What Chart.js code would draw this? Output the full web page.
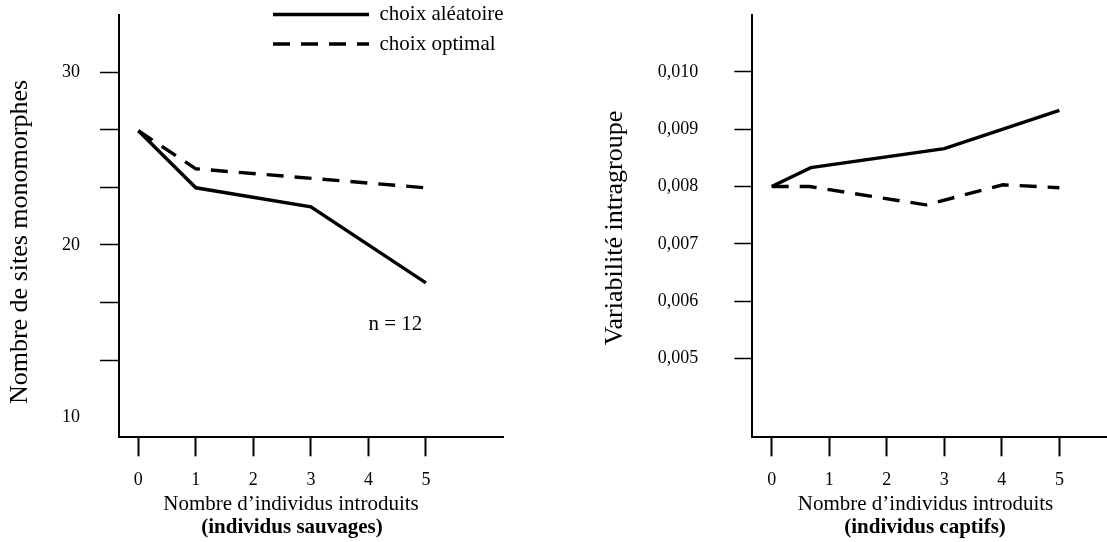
<!DOCTYPE html>
<html>
<head>
<meta charset="utf-8">
<script src="https://cdn.jsdelivr.net/npm/chart.js@4.4.1/dist/chart.umd.min.js"></script>
<style>
  html, body { margin: 0; padding: 0; background: #fff; }
  #wrap { position: relative; width: 1107px; height: 542px; }
  #leftChart { position: absolute; left: 0; top: 0; }
  #rightChart { position: absolute; left: 560px; top: 0; }
</style>
</head>
<body>
<div id="wrap">
  <canvas id="leftChart" width="560" height="542"></canvas>
  <canvas id="rightChart" width="547" height="542"></canvas>
</div>
<script>
const FONT = "'Liberation Serif', 'Times New Roman', serif";
const SERIES_NAMES = ['choix aléatoire', 'choix optimal'];
const xTicks = [0, 1, 2, 3, 4, 5];

// individus sauvages (left panel)
const wildRandomX = [0, 1, 3, 5];
const wildRandomY = [26.6, 23.3, 22.2, 17.8];
const wildOptimalX = [0, 1, 5];
const wildOptimalY = [26.6, 24.4, 23.3];
const wildYTicks = [10, 13.33, 16.67, 20, 23.33, 26.67, 30];
const wildYLabels = ['10', '', '', '20', '', '', '30'];

// individus captifs (right panel)
const captiveRandomX = [0, 0.68, 3, 5];
const captiveRandomY = [0.0080, 0.00833, 0.00866, 0.00933];
const captiveOptimalX = [0, 0.66, 2.68, 4.02, 5];
const captiveOptimalY = [0.0080, 0.0080, 0.00768, 0.00803, 0.00798];
const captiveYTicks = [0.005, 0.006, 0.007, 0.008, 0.009, 0.010];
const captiveYLabels = ['0,005', '0,006', '0,007', '0,008', '0,009', '0,010'];

Chart.defaults.font.family = FONT;
Chart.defaults.color = '#000';

function pts(xs, ys) {
  return xs.map((x, i) => ({ x: x, y: ys[i] }));
}

function lineSet(label, data, dashed) {
  return {
    label: label,
    data: data,
    borderColor: '#000',
    backgroundColor: '#000',
    borderWidth: 3.4,
    borderDash: dashed ? [17, 11] : [],
    pointRadius: 0,
    tension: 0,
    fill: false,
  };
}

function xAxis(min, max) {
  return {
    type: 'linear',
    min: min,
    max: max,
    afterBuildTicks: (s) => { s.ticks = xTicks.map((v) => ({ value: v })); },
    afterFit: (s) => {
      s.height = 104.7;
      s.paddingLeft = 0;
      s.paddingRight = 0;
    },
    ticks: { color: '#000', font: { size: 18 }, padding: 13, maxRotation: 0, autoSkip: false, callback: (v) => String(v) },
    grid: { drawOnChartArea: false, drawTicks: true, tickLength: 19, tickWidth: 2, tickColor: '#000' },
    border: { display: true, color: '#000', width: 2 },
  };
}

function yAxis(min, max, values, labels, width, tickLen, pad, hideAt) {
  return {
    type: 'linear',
    min: min,
    max: max,
    afterBuildTicks: (s) => { s.ticks = values.map((v) => ({ value: v })); },
    afterFit: (s) => {
      s.width = width;
      s.paddingTop = 0;
      s.paddingBottom = 0;
    },
    ticks: { color: '#000', font: { size: 18 }, padding: pad, autoSkip: false, callback: (v, i) => labels[i] },
    grid: {
      drawOnChartArea: false,
      drawTicks: true,
      tickLength: tickLen,
      tickWidth: 1.5,
      tickColor: (c) => (c.tick && c.tick.value === hideAt ? 'rgba(0,0,0,0)' : '#000'),
    },
    border: { display: true, color: '#000', width: 2 },
  };
}

// free text: axis titles and note
function freeText(items) {
  return {
    id: 'freeText',
    afterDraw(chart) {
      const ctx = chart.ctx;
      items.forEach((t) => {
        let x = t.x;
        let y = t.y;
        if (t.at) {
          x = chart.scales.x.getPixelForValue(t.at[0]);
          y = chart.scales.y.getPixelForValue(t.at[1]);
        }
        ctx.save();
        ctx.fillStyle = '#000';
        ctx.font = (t.bold ? 'bold ' : '') + t.size + 'px ' + FONT;
        ctx.textAlign = 'center';
        ctx.textBaseline = 'middle';
        ctx.translate(x, y);
        if (t.rotate) ctx.rotate(-Math.PI / 2);
        ctx.fillText(t.text, 0, 0);
        ctx.restore();
      });
    },
  };
}

// put the chartArea legend at the top of the plot
function legendSpot(box) {
  return {
    id: 'legendSpot',
    afterLayout(chart) {
      const lg = chart.legend;
      if (!lg) return;
      lg.left = box.left;
      lg.top = box.top;
      lg.right = box.right;
      lg.bottom = box.bottom;
    },
  };
}

function legendItems(chart) {
  const items = Chart.defaults.plugins.legend.labels.generateLabels(chart);
  items.forEach((it) => {
    const ds = chart.data.datasets[it.datasetIndex];
    it.lineDash = ds.borderDash;
    it.lineWidth = ds.borderWidth;
    it.strokeStyle = '#000';
    it.fillStyle = '#000';
  });
  return items;
}

const leftChart = new Chart(document.getElementById('leftChart').getContext('2d'), {
  type: 'line',
  data: {
    datasets: [
      lineSet(SERIES_NAMES[0], pts(wildRandomX, wildRandomY), false),
      lineSet(SERIES_NAMES[1], pts(wildOptimalX, wildOptimalY), true),
    ],
  },
  options: {
    responsive: false,
    animation: false,
    events: [],
    layout: { padding: { top: 14.5, left: 0, right: 57, bottom: 0 } },
    plugins: {
      tooltip: { enabled: false },
      legend: {
        position: 'chartArea',
        align: 'start',
        labels: {
          usePointStyle: true,
          pointStyle: 'line',
          pointStyleWidth: 96,
          padding: 8.5,
          textAlign: 'left',
          color: '#000',
          font: { size: 21 },
          generateLabels: legendItems,
        },
      },
    },
    scales: {
      x: xAxis(-0.336, 6.34),
      y: yAxis(8.86, 33.33, wildYTicks, wildYLabels, 119, 19, 20, 10),
    },
  },
  plugins: [
    freeText([
      { text: 'Nombre de sites monomorphes', x: 20, y: 242, size: 26, rotate: true },
      { text: 'Nombre d\u2019individus introduits', x: 291, y: 504, size: 21 },
      { text: '(individus sauvages)', x: 292, y: 528, size: 21, bold: true },
      { text: 'n = 12', at: [4.47, 15.4], size: 21 },
    ]),
    legendSpot({ left: 264.5, top: -4.5, right: 560, bottom: 120 }),
  ],
});

const rightChart = new Chart(document.getElementById('rightChart').getContext('2d'), {
  type: 'line',
  data: {
    datasets: [
      lineSet(SERIES_NAMES[0], pts(captiveRandomX, captiveRandomY), false),
      lineSet(SERIES_NAMES[1], pts(captiveOptimalX, captiveOptimalY), true),
    ],
  },
  options: {
    responsive: false,
    animation: false,
    events: [],
    layout: { padding: { top: 14.5, left: 0, right: 1, bottom: 0 } },
    plugins: {
      tooltip: { enabled: false },
      legend: { display: false },
    },
    scales: {
      x: xAxis(-0.337, 5.81),
      y: yAxis(0.003627, 0.0110, captiveYTicks, captiveYLabels, 192.3, 18, 36, null),
    },
  },
  plugins: [
    freeText([
      { text: 'Variabilité intragroupe', x: 55.5, y: 228, size: 26, rotate: true },
      { text: 'Nombre d\u2019individus introduits', x: 365.5, y: 504, size: 21 },
      { text: '(individus captifs)', x: 365, y: 528, size: 21, bold: true },
    ]),
  ],
});
</script>
</body>
</html>
